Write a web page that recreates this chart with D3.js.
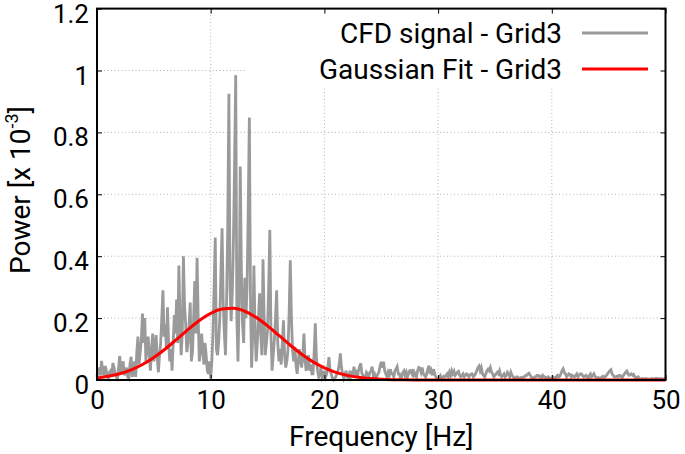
<!DOCTYPE html>
<html><head><meta charset="utf-8">
<script src="https://cdn.jsdelivr.net/npm/d3@7"></script>
<style>
body{margin:0;background:#fff}
svg{display:block}
text{font-family:Roboto,"Open Sans",sans-serif;fill:#000}
</style>
</head><body>
<svg id="chart" width="685" height="454"></svg>
<script>
// ---------- data ----------
const freqStep = 0.1; // Hz between CFD samples, starting at 0 Hz
const cfdPower = [
0.010,0.040,0.030,0.015,0.062,0.030,0.015,0.045,0.035,0.010,
0.005,0.025,0.030,0.010,0.055,0.040,0.020,0.010,0.005,0.040,
0.078,0.020,0.045,0.060,0.015,0.030,0.040,0.010,0.005,0.050,
0.075,0.010,0.030,0.060,0.010,0.090,0.140,0.050,0.090,0.130,
0.215,0.120,0.200,0.060,0.110,0.140,0.080,0.030,0.105,0.150,
0.060,0.100,0.145,0.070,0.025,0.080,0.120,0.200,0.290,0.140,
0.180,0.100,0.235,0.120,0.060,0.100,0.030,0.120,0.210,0.150,
0.260,0.120,0.370,0.200,0.080,0.150,0.400,0.240,0.180,0.090,
0.120,0.180,0.250,0.060,0.090,0.200,0.320,0.150,0.395,0.200,
0.060,0.090,0.150,0.100,0.050,0.120,0.080,0.030,0.020,0.060,
0.005,0.060,0.150,0.300,0.460,0.100,0.080,0.120,0.200,0.350,
0.490,0.250,0.150,0.080,0.260,0.500,0.925,0.300,0.190,0.280,
0.450,0.700,0.985,0.200,0.060,0.250,0.690,0.350,0.180,0.120,
0.330,0.200,0.300,0.550,0.848,0.250,0.040,0.150,0.370,0.160,
0.060,0.120,0.200,0.280,0.150,0.080,0.390,0.200,0.080,0.120,
0.160,0.300,0.485,0.150,0.030,0.080,0.130,0.200,0.290,0.120,
0.060,0.100,0.050,0.120,0.193,0.080,0.040,0.060,0.100,0.220,
0.387,0.200,0.097,0.060,0.107,0.050,0.020,0.060,0.100,0.060,
0.040,0.080,0.150,0.060,0.030,0.050,0.080,0.030,0.050,0.020,
0.020,0.090,0.183,0.070,0.030,0.010,0.020,0.040,0.005,0.010,
0.030,0.010,0.020,0.040,0.074,0.030,0.020,0.005,0.000,0.005,
0.010,0.020,0.030,0.050,0.086,0.040,0.020,0.005,0.015,0.030,
0.010,0.005,0.020,0.010,0.030,0.015,0.043,0.020,0.025,0.010,
0.030,0.045,0.054,0.020,0.015,0.005,0.010,0.025,0.020,0.010,
0.025,0.030,0.043,0.015,0.020,0.005,0.010,0.020,0.025,0.045,
0.059,0.040,0.059,0.030,0.020,0.010,0.025,0.015,0.035,0.020,
0.020,0.010,0.030,0.035,0.043,0.020,0.020,0.005,0.010,0.025,
0.030,0.015,0.025,0.010,0.020,0.030,0.030,0.020,0.035,0.015,
0.020,0.010,0.030,0.040,0.038,0.025,0.040,0.020,0.015,0.010,
0.020,0.035,0.046,0.020,0.030,0.015,0.035,0.020,0.010,0.005,
0.005,0.010,0.015,0.005,0.008,0.012,0.010,0.015,0.020,0.010,
0.025,0.015,0.030,0.020,0.028,0.015,0.020,0.025,0.028,0.015,
0.010,0.015,0.020,0.010,0.015,0.020,0.018,0.010,0.015,0.020,
0.020,0.010,0.015,0.020,0.030,0.040,0.045,0.030,0.040,0.020,
0.015,0.010,0.020,0.030,0.035,0.030,0.040,0.025,0.020,0.010,
0.015,0.020,0.025,0.020,0.030,0.015,0.010,0.015,0.020,0.010,
0.015,0.025,0.020,0.010,0.025,0.015,0.010,0.005,0.005,0.010,
0.010,0.005,0.005,0.008,0.005,0.010,0.010,0.015,0.015,0.020,
0.022,0.015,0.010,0.005,0.005,0.010,0.010,0.015,0.015,0.010,
0.012,0.008,0.015,0.010,0.010,0.005,0.008,0.010,0.005,0.005,
0.005,0.010,0.008,0.005,0.010,0.015,0.010,0.012,0.020,0.030,
0.036,0.025,0.020,0.010,0.015,0.020,0.018,0.010,0.015,0.012,
0.010,0.015,0.020,0.010,0.015,0.020,0.020,0.015,0.010,0.012,
0.015,0.010,0.005,0.015,0.020,0.010,0.015,0.020,0.012,0.008,
0.005,0.008,0.002,0.005,0.010,0.012,0.008,0.010,0.015,0.020,
0.025,0.030,0.033,0.020,0.015,0.010,0.010,0.012,0.010,0.015,
0.015,0.010,0.008,0.015,0.020,0.025,0.029,0.020,0.015,0.018,
0.020,0.015,0.018,0.010,0.005,0.008,0.010,0.005,0.002,0.004,
0.005,0.004,0.003,0.005,0.004,0.003,0.002,0.004,0.005,0.004,
0.003,0.005,0.006,0.004,0.004,0.003,0.005,0.004,0.003,0.004,
0.004
];
const fitFreq = [0,1,2,3,4,5,6,7,8,9,10,11,12,13,14,15,16,17,18,19,20,21,22,23,24,25,26,27,28,29,30,40,50];
const fitPower = [0.0067,0.0120,0.0204,0.0328,0.0501,0.0727,0.1002,0.1311,0.1629,0.1922,
0.2153,0.2291,0.2315,0.2221,0.2023,0.1751,0.1439,0.1123,0.0832,0.0585,
0.0391,0.0248,0.0150,0.0086,0.0046,0.0024,0.0012,0.0005,0.0002,0.0001,0,0,0];
const xTicks = [0,10,20,30,40,50];
const yTicks = [0,0.2,0.4,0.6,0.8,1,1.2];
const yTickLabels = ["0","0.2","0.4","0.6","0.8","1","1.2"];
const seriesNames = ["CFD signal - Grid3","Gaussian Fit - Grid3"];
const seriesColors = ["#9a9a9a","#ff0000"];
const xTitle = "Frequency [Hz]";

// ---------- layout ----------
const L = 97, R = 665.5, T = 8.6, B = 380;
const svg = d3.select("#chart");
const x = d3.scaleLinear().domain([0,50]).range([L,R]);
const y = d3.scaleLinear().domain([0,1.2]).range([B,T]);

// grid
const grid = svg.append("g").attr("stroke","#b4b4b4").attr("stroke-width",1).attr("stroke-dasharray","1,2.5");
xTicks.slice(1,-1).forEach(t=>{
  grid.append("line").attr("x1",x(t)).attr("x2",x(t)).attr("y1",B).attr("y2",T);
});
yTicks.slice(1,-1).forEach(t=>{
  grid.append("line").attr("x1",L).attr("x2",R).attr("y1",y(t)).attr("y2",y(t));
});

// legend background (covers grid)
svg.append("rect").attr("x",247).attr("y",T).attr("width",R-247).attr("height",86-T).attr("fill","#fff");

// data
const cfd = cfdPower.map((v,i)=>({f:i*freqStep,p:v}));
const fit = fitFreq.map((f,i)=>({f:f,p:fitPower[i]}));
svg.append("path").datum(cfd).attr("d",d3.line().x(d=>x(d.f)).y(d=>y(d.p)))
  .attr("fill","none").attr("stroke",seriesColors[0]).attr("stroke-width",2.8).attr("stroke-linejoin","miter");
svg.append("path").datum(fit).attr("d",d3.line().x(d=>x(d.f)).y(d=>y(d.p)).curve(d3.curveMonotoneX))
  .attr("fill","none").attr("stroke",seriesColors[1]).attr("stroke-width",3);

// axes
const fs = "26px";
const ax = svg.append("g").attr("transform",`translate(0,${B})`)
  .call(d3.axisBottom(x).tickValues(xTicks).tickSize(-5).tickPadding(11).tickFormat(d3.format("d")));
ax.select(".domain").remove();
ax.selectAll("text").attr("font-size",fs).attr("font-family","Roboto");
const ay = svg.append("g").attr("transform",`translate(${L},0)`)
  .call(d3.axisLeft(y).tickValues(yTicks).tickSize(-5).tickPadding(8).tickFormat((d,i)=>yTickLabels[i]));
ay.select(".domain").remove();
ay.selectAll("text").attr("font-size",fs).attr("font-family","Roboto").attr("dy","0.52em");
const at = svg.append("g").attr("transform",`translate(0,${T})`)
  .call(d3.axisTop(x).tickValues(xTicks).tickSize(-5).tickFormat(""));
at.select(".domain").remove();
const ar = svg.append("g").attr("transform",`translate(${R},0)`)
  .call(d3.axisRight(y).tickValues(yTicks).tickSize(-5).tickFormat(""));
ar.select(".domain").remove();
svg.selectAll(".tick line").attr("stroke","#000").attr("stroke-width",1);

// frame
svg.append("rect").attr("x",L).attr("y",T).attr("width",R-L).attr("height",B-T)
  .attr("fill","none").attr("stroke","#000").attr("stroke-width",2);

// titles
svg.append("text").attr("x",(L+R)/2).attr("y",446).attr("text-anchor","middle")
  .attr("font-size","28px").text(xTitle);
const yt = svg.append("text").attr("transform",`translate(30,190) rotate(-90)`)
  .attr("text-anchor","middle").attr("font-size","28px");
yt.append("tspan").text("Power [x 10");
yt.append("tspan").attr("font-size","18px").attr("dy",-12).text("-3");
yt.append("tspan").attr("dy",12).text("]");

// legend
seriesNames.forEach((name,i)=>{
  const ly = [33,69][i];
  svg.append("text").attr("x",562).attr("y",ly).attr("dy","0.35em").attr("text-anchor","end")
    .attr("font-size","28px").text(name);
  svg.append("line").attr("x1",582).attr("x2",648).attr("y1",ly).attr("y2",ly)
    .attr("stroke",seriesColors[i]).attr("stroke-width",3);
});
</script>
</body></html>
